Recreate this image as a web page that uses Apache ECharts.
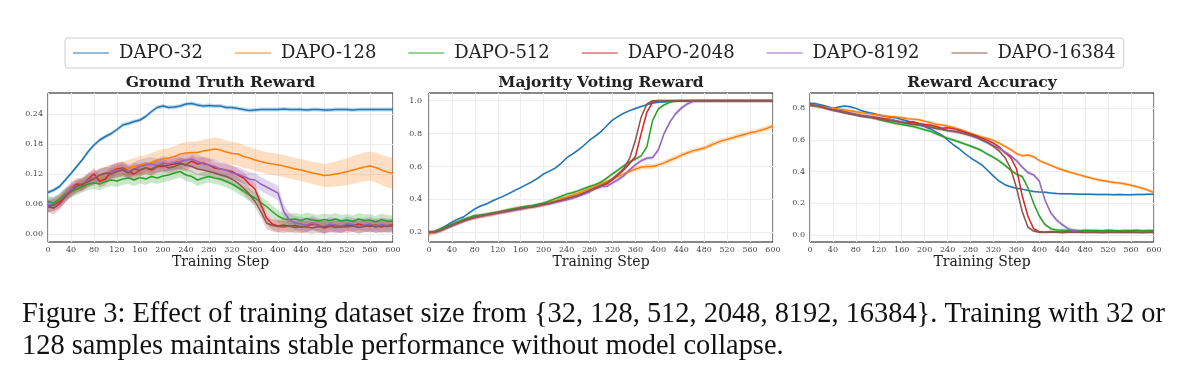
<!DOCTYPE html>
<html><head><meta charset="utf-8">
<script src="https://cdn.jsdelivr.net/npm/echarts@6/dist/echarts.min.js"></script>
<style>html,body{margin:0;padding:0;background:#fff}#c{width:1200px;height:383px}</style>
</head><body><div id="c"></div>
<script>
const steps = [0,10,20,30,40,50,60,70,80,90,
 100,110,120,130,140,150,160,170,180,190,
 200,210,220,230,240,250,260,270,280,290,
 300,310,320,330,340,350,360,370,380,390,
 400,410,420,430,440,450,460,470,480,490,
 500,510,520,530,540,550,560,570,580,590,600];
const names = ['DAPO-32','DAPO-128','DAPO-512','DAPO-2048','DAPO-8192','DAPO-16384'];
const titles = ['Ground Truth Reward','Majority Voting Reward','Reward Accuracy'];

// ---- Ground Truth Reward ----
const gt32 = [0.083,0.088,0.095,0.108,0.121,0.135,0.149,0.165,0.178,0.188,
 0.195,0.201,0.209,0.218,0.221,0.225,0.228,0.235,0.245,0.253,
 0.256,0.253,0.254,0.256,0.260,0.261,0.258,0.256,0.257,0.256,
 0.256,0.253,0.253,0.251,0.249,0.247,0.248,0.249,0.249,0.249,
 0.249,0.250,0.249,0.249,0.249,0.248,0.249,0.249,0.248,0.248,
 0.249,0.249,0.249,0.248,0.249,0.249,0.249,0.249,0.249,0.249,0.249];
const gt128 = [0.060,0.062,0.070,0.080,0.088,0.095,0.100,0.108,0.113,0.115,
 0.120,0.125,0.128,0.130,0.132,0.135,0.138,0.140,0.143,0.148,
 0.150,0.152,0.155,0.160,0.162,0.163,0.163,0.166,0.168,0.170,
 0.168,0.164,0.161,0.160,0.155,0.152,0.148,0.145,0.142,0.140,
 0.138,0.136,0.133,0.130,0.128,0.125,0.122,0.120,0.117,0.118,
 0.120,0.122,0.125,0.128,0.131,0.134,0.136,0.133,0.128,0.124,0.121];
const gt512 = [0.065,0.062,0.070,0.080,0.085,0.090,0.095,0.100,0.102,0.100,
 0.105,0.108,0.106,0.110,0.112,0.108,0.113,0.110,0.115,0.112,
 0.116,0.118,0.122,0.125,0.118,0.115,0.108,0.112,0.115,0.112,
 0.110,0.105,0.100,0.093,0.086,0.078,0.072,0.063,0.055,0.045,
 0.036,0.030,0.029,0.030,0.027,0.031,0.028,0.026,0.029,0.027,
 0.030,0.026,0.028,0.025,0.030,0.027,0.028,0.024,0.029,0.026,0.025];
const gt2048 = [0.055,0.052,0.060,0.075,0.090,0.100,0.098,0.110,0.120,0.105,
 0.110,0.125,0.130,0.132,0.125,0.120,0.128,0.132,0.128,0.135,
 0.135,0.138,0.140,0.142,0.138,0.146,0.140,0.142,0.138,0.132,
 0.130,0.128,0.125,0.118,0.112,0.100,0.090,0.060,0.032,0.020,
 0.016,0.018,0.015,0.017,0.014,0.016,0.020,0.018,0.012,0.015,
 0.017,0.014,0.018,0.016,0.020,0.017,0.015,0.018,0.014,0.017,0.018];
const gt8192 = [0.058,0.060,0.065,0.078,0.090,0.095,0.100,0.108,0.112,0.118,
 0.120,0.125,0.128,0.130,0.125,0.130,0.135,0.138,0.140,0.137,
 0.142,0.140,0.143,0.145,0.148,0.150,0.145,0.140,0.138,0.135,
 0.130,0.128,0.122,0.120,0.115,0.110,0.108,0.100,0.094,0.088,
 0.082,0.045,0.028,0.022,0.020,0.018,0.022,0.017,0.015,0.020,
 0.018,0.016,0.021,0.019,0.015,0.018,0.020,0.016,0.019,0.017,0.016];
const gt16384 = [0.055,0.058,0.065,0.075,0.085,0.095,0.100,0.105,0.110,0.118,
 0.122,0.120,0.125,0.128,0.122,0.130,0.128,0.132,0.130,0.135,
 0.138,0.132,0.135,0.140,0.138,0.135,0.130,0.128,0.125,0.122,
 0.118,0.115,0.110,0.102,0.092,0.080,0.065,0.045,0.022,0.017,
 0.015,0.014,0.016,0.013,0.015,0.014,0.012,0.015,0.014,0.016,
 0.013,0.015,0.014,0.016,0.013,0.015,0.017,0.014,0.016,0.015,0.017];
const gtBand128 = [0.008,0.008,0.009,0.010,0.010,0.011,0.012,0.012,0.013,0.013,
 0.014,0.014,0.015,0.016,0.016,0.017,0.018,0.018,0.019,0.019,
 0.020,0.020,0.021,0.021,0.022,0.022,0.022,0.023,0.023,0.023,
 0.023,0.023,0.023,0.023,0.023,0.022,0.022,0.022,0.022,0.022,
 0.022,0.022,0.022,0.022,0.022,0.022,0.022,0.023,0.023,0.024,
 0.025,0.026,0.027,0.028,0.028,0.029,0.029,0.030,0.030,0.031,0.031];
const gtSpread = [0.004, gtBand128, 0.012, 0.012, 0.014, 0.012];

// ---- Majority Voting Reward ----
const mv32 = [0.200,0.205,0.220,0.240,0.262,0.280,0.293,0.318,0.342,0.360,
 0.372,0.390,0.405,0.420,0.437,0.455,0.472,0.490,0.508,0.530,
 0.555,0.572,0.590,0.618,0.652,0.675,0.700,0.728,0.760,0.785,
 0.812,0.848,0.882,0.905,0.925,0.940,0.953,0.965,0.976,0.986,
 0.990,0.993,0.996,0.998,0.999,1.000,1.000,1.000,1.000,1.000,
 1.000,1.000,1.000,1.000,1.000,1.000,1.000,1.000,1.000,1.000,1.000];
const mv128 = [0.190,0.200,0.215,0.230,0.245,0.258,0.270,0.282,0.290,0.298,
 0.305,0.310,0.318,0.325,0.332,0.340,0.345,0.350,0.356,0.362,
 0.370,0.380,0.390,0.405,0.415,0.425,0.437,0.450,0.465,0.480,
 0.495,0.510,0.525,0.540,0.555,0.570,0.585,0.595,0.600,0.600,
 0.610,0.622,0.638,0.652,0.668,0.682,0.695,0.703,0.712,0.728,
 0.742,0.755,0.765,0.775,0.785,0.795,0.805,0.812,0.822,0.833,0.848];
const mv512 = [0.200,0.205,0.220,0.235,0.250,0.265,0.278,0.290,0.302,0.305,
 0.310,0.318,0.322,0.330,0.338,0.345,0.352,0.358,0.362,0.370,
 0.378,0.390,0.405,0.418,0.432,0.440,0.452,0.465,0.478,0.490,
 0.505,0.530,0.555,0.580,0.605,0.628,0.645,0.665,0.720,0.880,
 0.950,0.975,0.990,0.998,1.000,1.000,1.000,1.000,1.000,1.000,
 1.000,1.000,1.000,1.000,1.000,1.000,1.000,1.000,1.000,1.000,1.000];
const mv2048 = [0.200,0.200,0.210,0.225,0.240,0.255,0.268,0.280,0.290,0.298,
 0.305,0.312,0.318,0.325,0.330,0.338,0.345,0.350,0.356,0.362,
 0.370,0.375,0.385,0.392,0.400,0.410,0.420,0.435,0.450,0.465,
 0.480,0.495,0.520,0.550,0.580,0.620,0.660,0.800,0.930,0.990,
 1.000,1.000,1.000,1.000,1.000,1.000,1.000,1.000,1.000,1.000,
 1.000,1.000,1.000,1.000,1.000,1.000,1.000,1.000,1.000,1.000,1.000];
const mv8192 = [0.200,0.200,0.210,0.225,0.240,0.255,0.268,0.280,0.292,0.298,
 0.305,0.310,0.318,0.325,0.330,0.335,0.342,0.350,0.355,0.360,
 0.368,0.375,0.382,0.390,0.400,0.410,0.420,0.432,0.445,0.470,
 0.478,0.480,0.500,0.520,0.545,0.580,0.610,0.635,0.650,0.655,
 0.700,0.800,0.870,0.920,0.955,0.980,0.995,1.000,1.000,1.000,
 1.000,1.000,1.000,1.000,1.000,1.000,1.000,1.000,1.000,1.000,1.000];
const mv16384 = [0.200,0.202,0.212,0.228,0.242,0.256,0.270,0.282,0.292,0.300,
 0.306,0.312,0.320,0.326,0.332,0.338,0.344,0.350,0.356,0.362,
 0.370,0.377,0.386,0.395,0.405,0.415,0.425,0.440,0.455,0.470,
 0.485,0.500,0.525,0.555,0.590,0.650,0.760,0.900,0.980,1.000,
 1.000,1.000,1.000,1.000,1.000,1.000,1.000,1.000,1.000,1.000,
 1.000,1.000,1.000,1.000,1.000,1.000,1.000,1.000,1.000,1.000,1.000];
const mvSpread = [0.006, 0.015, 0.010, 0.010, 0.012, 0.008];

// ---- Reward Accuracy ----
const ra32 = [0.832,0.830,0.822,0.812,0.800,0.808,0.815,0.810,0.800,0.785,
 0.775,0.768,0.758,0.750,0.745,0.740,0.730,0.720,0.710,0.700,
 0.685,0.670,0.650,0.630,0.600,0.570,0.545,0.515,0.488,0.465,
 0.442,0.408,0.372,0.340,0.318,0.305,0.295,0.290,0.282,0.275,
 0.272,0.270,0.265,0.262,0.261,0.260,0.259,0.258,0.258,0.257,
 0.256,0.256,0.256,0.255,0.256,0.255,0.255,0.256,0.256,0.257,0.258];
const ra128 = [0.820,0.818,0.812,0.805,0.800,0.795,0.790,0.785,0.778,0.772,
 0.768,0.762,0.758,0.752,0.748,0.745,0.740,0.735,0.732,0.728,
 0.718,0.710,0.700,0.695,0.688,0.680,0.668,0.655,0.642,0.630,
 0.618,0.610,0.598,0.580,0.560,0.540,0.515,0.500,0.505,0.495,
 0.470,0.455,0.440,0.425,0.412,0.400,0.390,0.380,0.370,0.360,
 0.350,0.345,0.338,0.332,0.328,0.322,0.315,0.305,0.295,0.283,0.268];
const ra512 = [0.820,0.815,0.810,0.800,0.792,0.785,0.775,0.768,0.760,0.752,
 0.748,0.740,0.730,0.720,0.712,0.705,0.698,0.692,0.685,0.675,
 0.665,0.655,0.640,0.625,0.612,0.600,0.588,0.575,0.562,0.548,
 0.532,0.510,0.490,0.468,0.440,0.410,0.385,0.370,0.300,0.200,
 0.120,0.065,0.040,0.032,0.030,0.028,0.030,0.027,0.030,0.028,
 0.029,0.027,0.030,0.028,0.027,0.029,0.028,0.030,0.027,0.029,0.028];
const ra2048 = [0.820,0.818,0.810,0.800,0.792,0.785,0.778,0.770,0.762,0.755,
 0.750,0.745,0.740,0.735,0.730,0.720,0.712,0.710,0.715,0.705,
 0.698,0.695,0.685,0.675,0.678,0.672,0.662,0.650,0.638,0.625,
 0.612,0.598,0.580,0.555,0.520,0.490,0.420,0.250,0.120,0.040,
 0.020,0.018,0.020,0.019,0.018,0.020,0.017,0.019,0.018,0.020,
 0.019,0.017,0.020,0.018,0.019,0.017,0.020,0.018,0.019,0.018,0.019];
const ra8192 = [0.820,0.815,0.808,0.800,0.790,0.782,0.775,0.768,0.760,0.752,
 0.748,0.742,0.735,0.728,0.730,0.720,0.712,0.705,0.700,0.695,
 0.688,0.680,0.672,0.668,0.660,0.655,0.650,0.640,0.628,0.615,
 0.600,0.585,0.565,0.548,0.525,0.500,0.470,0.430,0.395,0.380,
 0.340,0.220,0.140,0.095,0.065,0.040,0.028,0.022,0.020,0.021,
 0.019,0.020,0.018,0.021,0.019,0.020,0.018,0.020,0.019,0.020,0.019];
const ra16384 = [0.822,0.816,0.808,0.798,0.788,0.780,0.772,0.765,0.758,0.750,
 0.745,0.740,0.735,0.728,0.722,0.718,0.712,0.705,0.700,0.695,
 0.690,0.682,0.675,0.668,0.660,0.655,0.648,0.640,0.630,0.618,
 0.600,0.582,0.560,0.530,0.490,0.420,0.300,0.150,0.050,0.025,
 0.018,0.017,0.019,0.018,0.016,0.018,0.017,0.019,0.018,0.017,
 0.018,0.016,0.018,0.017,0.019,0.018,0.017,0.018,0.016,0.018,0.017];
const raSpread = [0.006, 0.010, 0.010, 0.008, 0.012, 0.008];

const gtTicks = [0, 0.06, 0.12, 0.18, 0.24];
const mvTicks = [0.2, 0.4, 0.6, 0.8, 1.0];
const raTicks = [0, 0.2, 0.4, 0.6, 0.8];

const colors = ['#1f77b4','#ff7f0e','#2ca02c','#d62728','#9467bd','#8c564b'];
const bandColors = ['rgba(31,119,180,0.28)','rgba(255,127,14,0.25)','rgba(44,160,44,0.25)','rgba(214,39,40,0.25)','rgba(148,103,189,0.28)','rgba(140,86,75,0.25)'];

const panels = [
  {data:[gt32,gt128,gt512,gt2048,gt8192,gt16384], spread:gtSpread, ticks:gtTicks, min:-0.016, max:0.282, dec:2, left:48, width:345, lm:5},
  {data:[mv32,mv128,mv512,mv2048,mv8192,mv16384], spread:mvSpread, ticks:mvTicks, min:0.141, max:1.047, dec:1, left:429, width:344, lm:7},
  {data:[ra32,ra128,ra512,ra2048,ra8192,ra16384], spread:raSpread, ticks:raTicks, min:-0.044, max:0.897, dec:1, left:810, width:344, lm:5}
];

const FONT = 'DejaVu Serif';
const grids = [], xAxes = [], yAxes = [], series = [], graphics = [];
panels.forEach((p, pi) => {
  grids.push({left:p.left, top:93, width:p.width, height:149, show:true, borderColor:'#111', borderWidth:1, backgroundColor:'rgba(0,0,0,0)', containLabel:false});
  xAxes.push({type:'value', gridIndex:pi, min:0, max:600, interval:40,
    axisLine:{show:false}, axisTick:{show:false},
    axisLabel:{fontFamily:FONT, fontSize:8, color:'#444', margin:4, showMinLabel:true, showMaxLabel:true},
    splitLine:{show:true, lineStyle:{color:'#ececec', width:1}},
    name:'Training Step', nameLocation:'middle', nameGap:13,
    nameTextStyle:{fontFamily:FONT, fontSize:14, color:'#222'}});
  yAxes.push({type:'value', gridIndex:pi, min:p.min, max:p.max,
    axisLine:{show:false}, axisTick:{show:false, customValues:p.ticks},
    axisLabel:{customValues:p.ticks, fontFamily:FONT, fontSize:8, color:'#444', margin:p.lm,
      formatter:v => Number(v).toFixed(p.dec)},
    splitLine:{show:true, lineStyle:{color:'#ececec', width:1}}});
  graphics.push({type:'text', x:p.left + p.width/2, y:83, z:10,
    style:{text:titles[pi], align:'center', verticalAlign:'middle', fontFamily:FONT, fontWeight:'bold', fontSize:15.5, fill:'#222'}});
  p.data.forEach((vals, k) => {
    const sp = p.spread[k];
    const h = i => Array.isArray(sp) ? sp[i] : sp;
    const bandRows = steps.map((s,i)=>[s, vals[i]-h(i), vals[i]+h(i)]);
    series.push({type:'custom', xAxisIndex:pi, yAxisIndex:pi, silent:true, z:1, clip:true,
      data:[[bandRows[0][0], bandRows[0][1]]],
      renderItem:(params, api) => {
        const up = bandRows.map(r => api.coord([r[0], r[2]]));
        const lo = bandRows.slice().reverse().map(r => api.coord([r[0], r[1]]));
        return {type:'polygon', shape:{points:up.concat(lo)}, style:{fill:bandColors[k], stroke:null}};
      }});
  });
  p.data.forEach((vals, k) => {
    series.push({type:'line', name:names[k], xAxisIndex:pi, yAxisIndex:pi, symbol:'none', z:3,
      lineStyle:{width:1.5, color:colors[k]}, itemStyle:{color:colors[k]},
      data:steps.map((s,i)=>[s, vals[i]])});
  });
});

graphics.push({type:'text', x:22, y:315, style:{text:'Figure 3: Effect of training dataset size from {32, 128, 512, 2048, 8192, 16384}. Training with 32 or', verticalAlign:'middle', fontFamily:'Liberation Serif', fontSize:28.4, fill:'#111'}});
graphics.push({type:'text', x:22, y:347, style:{text:'128 samples maintains stable performance without model collapse.', verticalAlign:'middle', fontFamily:'Liberation Serif', fontSize:28.4, fill:'#111'}});

const chart = echarts.init(document.getElementById('c'), null, {renderer:'canvas'});
chart.setOption({
  animation:false,
  backgroundColor:'#fff',
  legend:{data:names, left:65, top:38, icon:'rect', itemWidth:36, itemHeight:1.5, itemGap:32, padding:[6,8],
    borderColor:'#cccccc', borderWidth:1, borderRadius:3,
    itemStyle:{opacity:0.65},
    textStyle:{fontFamily:FONT, fontSize:18, color:'#222', padding:[0,0,0,5]}},
  grid:grids, xAxis:xAxes, yAxis:yAxes, series:series, graphic:graphics
});
</script></body></html>
